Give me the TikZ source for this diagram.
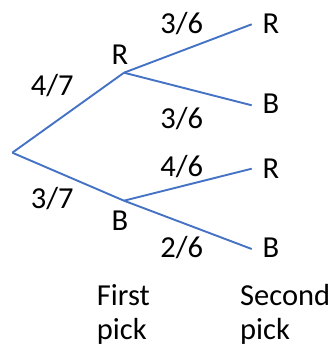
\documentclass[tikz,border=0pt]{standalone}
\usepackage{fontspec}
\setmainfont{Carlito}
\definecolor{branch}{HTML}{4472C4}
\begin{document}
\begin{tikzpicture}[x=1pt,y=-1pt,
  lbl/.style={inner sep=0pt,anchor=base,font=\fontsize{30.5}{36}\selectfont},
  lblw/.style={inner sep=0pt,anchor=base west,font=\fontsize{30.5}{36}\selectfont},
  br/.style={draw=branch,line width=1.9pt}]
\useasboundingbox (0,0) rectangle (333,347);
\coordinate (root) at (12.3,152.7);
\coordinate (r1) at (124,72.7);
\coordinate (b1) at (124,200.7);
\coordinate (rr) at (251.7,24.3);
\coordinate (rb) at (251.7,105.3);
\coordinate (br2) at (251.7,168.7);
\coordinate (bb) at (251.7,249);
\draw[br] (root) -- (r1);
\draw[br] (root) -- (b1);
\draw[br] (r1) -- (rr);
\draw[br] (r1) -- (rb);
\draw[br] (b1) -- (br2);
\draw[br] (b1) -- (bb);
\node[lbl] (p1) at (181.7,33.3) {3/6};
\node[lbl] (t1) at (271,33.3) {R};
\node[lbl] (f1) at (120,65) {R};
\node[lbl] (p0) at (52.3,95.7) {4/7};
\node[lbl] (t2) at (271,113.3) {B};
\node[lbl] (p2) at (181.7,128.3) {3/6};
\node[lbl] (p3) at (181.7,176.7) {4/6};
\node[lbl] (t3) at (271,178.3) {R};
\node[lbl] (q0) at (52.3,208.3) {3/7};
\node[lbl] (f2) at (120,230.7) {B};
\node[lbl] (p4) at (181.7,257.3) {2/6};
\node[lbl] (t4) at (271,257.3) {B};
\node[lblw] (h1a) at (96.7,305) {First};
\node[lblw] (h1b) at (96.7,339.5) {pick};
\node[lblw] (h2a) at (240,305) {Second};
\node[lblw] (h2b) at (240,339.5) {pick};
\end{tikzpicture}
\end{document}
